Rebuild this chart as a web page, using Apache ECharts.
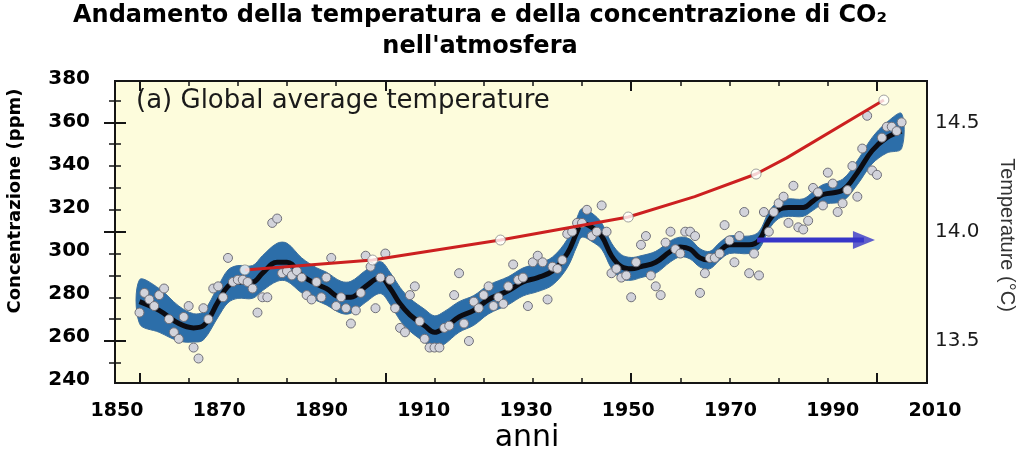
<!DOCTYPE html>
<html><head><meta charset="utf-8">
<script src="https://cdn.jsdelivr.net/npm/echarts@6/dist/echarts.min.js"></script>
<style>html,body{margin:0;padding:0;background:#fff}#c{width:1024px;height:450px}</style>
</head><body><div id="c"></div>
<script>
// ---- texts ----
const titleLine1 = 'Andamento della temperatura e della concentrazione di CO₂';
const titleLine2 = "nell'atmosfera";
const panelLabel = '(a) Global average temperature';
const leftAxisName = 'Concentrazione (ppm)';
const rightAxisName = 'Temperature (°C)';
const bottomAxisName = 'anni';
// ---- overlay axis ticks ----
const xTickLabels = ['1850','1870','1890','1910','1930','1950','1970','1990','2010'];
const ppmMin = 240, ppmMax = 380, ppmStep = 20;
// ---- annual global temperature (°C), one value per year from tempStartYear ----
const tempStartYear = 1850;
const tempValues = [
 13.63,13.72,13.69,13.66,13.71,13.74,13.60,13.54,13.51,13.61,
 13.66,13.47,13.42,13.65,13.60,13.74,13.75,13.70,13.88,13.77,
 13.78,13.78,13.77,13.74,13.63,13.70,13.70,14.04,14.06,13.81,
 13.82,13.80,13.82,13.79,13.71,13.69,13.77,13.70,13.79,13.88,
 13.66,13.70,13.65,13.58,13.64,13.72,13.89,13.84,13.65,13.79,
 13.90,13.78,13.65,13.56,13.54,13.71,13.75,13.59,13.51,13.47,
 13.47,13.47,13.56,13.57,13.71,13.81,13.58,13.50,13.68,13.65,
 13.71,13.75,13.66,13.70,13.67,13.75,13.85,13.78,13.79,13.66,
 13.86,13.89,13.86,13.69,13.84,13.83,13.87,13.99,14.00,14.04,
 14.04,14.10,13.98,14.00,14.12,14.00,13.81,13.83,13.79,13.80,
 13.70,13.86,13.94,13.98,13.80,13.75,13.71,13.95,14.00,13.92,
 13.90,14.00,14.00,13.98,13.72,13.81,13.88,13.88,13.90,14.03,
 13.96,13.86,13.98,14.09,13.81,13.90,13.80,14.09,14.00,14.09,
 14.13,14.16,14.04,14.21,14.02,14.01,14.05,14.20,14.18,14.12,
 14.27,14.22,14.09,14.13,14.19,14.30,14.16,14.38,14.53,14.28,
 14.26,14.43,14.48,14.48,14.46,14.50];
// ---- smoothed curve and its uncertainty half-width ----
const smoothYears = [1850,1854,1858,1861,1863,1866,1868,1870,1873,1875,
 1878,1880,1883,1886,1888,1891,1893,1896,1899,1901,
 1903,1905,1908,1910,1912,1915,1918,1921,1925,1928,
 1931,1934,1937,1939,1940,1942,1944,1946,1948,1950,
 1952,1955,1958,1960,1962,1964,1966,1968,1970,1974,
 1976,1978,1980,1982,1985,1987,1989,1993,1996,1999,
 2002,2005];
const smoothTemps = [13.68,13.64,13.58,13.56,13.57,13.68,13.75,13.77,13.77,13.81,
 13.86,13.86,13.80,13.76,13.74,13.70,13.70,13.75,13.79,13.74,
 13.67,13.62,13.57,13.54,13.56,13.61,13.64,13.69,13.73,13.77,
 13.79,13.82,13.90,14.00,14.04,14.02,13.98,13.89,13.84,13.83,
 13.84,13.86,13.91,13.93,13.92,13.88,13.87,13.91,13.94,13.94,
 13.96,14.05,14.10,14.11,14.11,14.14,14.17,14.19,14.27,14.37,
 14.43,14.46];
const bandHalf = [0.10,0.10,0.08,0.065,0.065,0.07,0.075,0.075,0.075,0.08,
 0.087,0.087,0.08,0.075,0.075,0.073,0.073,0.073,0.073,0.073,
 0.075,0.075,0.075,0.075,0.075,0.07,0.068,0.066,0.064,0.064,
 0.064,0.064,0.065,0.065,0.065,0.065,0.06,0.058,0.055,0.052,
 0.05,0.05,0.048,0.045,0.045,0.042,0.04,0.04,0.04,0.04,
 0.04,0.04,0.04,0.04,0.04,0.042,0.045,0.05,0.055,0.06,
 0.07,0.08];
// ---- CO2 concentration (ppm) ----
const co2Years = [1875,1900,1925,1950,1963,1975,1981,2000];
const co2Ppm   = [291.2,295.8,305.1,315.8,325.3,335.8,343.3,370.2];
const co2MarkYears = [1875,1900,1925,1950,1975,2000];
const co2MarkPpm   = [291.2,295.8,305.1,315.8,335.8,370.2];
// ---- arrow (year, ppm) ----
const arrowFrom = [1975.2, 305.1];
const arrowHead = [1996.1, 305.1];

const tempData = tempValues.map((v, i) => [tempStartYear + i, v]);
const smoothData = smoothYears.map((y, i) => [y, smoothTemps[i]]);
const co2Data = co2Years.map((y, i) => [y, co2Ppm[i]]);
const co2Marks = co2MarkYears.map((y, i) => [y, co2MarkPpm[i]]);

function renderBand(params, api) {
  if (params.dataIndex !== 0) return null;
  const upper = smoothYears.map((y, i) => api.coord([y, smoothTemps[i] + bandHalf[i]]));
  const lower = smoothYears.map((y, i) => api.coord([y, smoothTemps[i] - bandHalf[i]])).reverse();
  return {
    type: 'polygon',
    shape: { points: upper.concat(lower), smooth: 0.35 },
    style: { fill: '#2c6ea9', stroke: '#3d6f9e', lineWidth: 1 }
  };
}

const tickColor = '#151515';
const hidden = { show: false };
const chart = echarts.init(document.getElementById('c'), null, { renderer: 'canvas' });
chart.setOption({
  animation: false,
  backgroundColor: '#ffffff',
  grid: [
    { left: 115, top: 81, width: 812, height: 302, show: true, backgroundColor: '#fdfcdc', borderColor: '#151515', borderWidth: 2 },
    { left: 139.5, top: 81, width: 737.5, height: 302 },
    { left: 115, top: 122.3, width: 812, height: 218.7 },
    { left: 115, top: 100.4, width: 812, height: 262.5 },
    { left: 117, top: 79, width: 818, height: 301 }
  ],
  xAxis: [
    { gridIndex: 0, type: 'value', min: 1845.02, max: 2010.17, show: false },
    { gridIndex: 1, type: 'value', min: 1850, max: 2000, interval: 50, position: 'bottom',
      axisLine: hidden, axisLabel: hidden, splitLine: hidden,
      axisTick: { inside: true, length: 10, lineStyle: { color: tickColor, width: 2 } },
      minorTick: { show: true, splitNumber: 5, length: 5, lineStyle: { color: tickColor, width: 1.5 } } },
    { gridIndex: 1, type: 'value', min: 1850, max: 2000, interval: 50, position: 'top',
      axisLine: hidden, axisLabel: hidden, splitLine: hidden,
      axisTick: { inside: true, length: 10, lineStyle: { color: tickColor, width: 2 } },
      minorTick: { show: true, splitNumber: 5, length: 5, lineStyle: { color: tickColor, width: 1.5 } } },
    { gridIndex: 2, type: 'value', show: false },
    { gridIndex: 3, type: 'value', show: false },
    { gridIndex: 4, type: 'category', data: xTickLabels, boundaryGap: false,
      axisLine: hidden, axisTick: hidden, splitLine: hidden,
      axisLabel: { margin: 22, color: '#000', fontFamily: 'DejaVu Sans', fontWeight: 'bold', fontSize: 19 } },
    { gridIndex: 4, type: 'value', min: 1850, max: 2010, show: false }
  ],
  yAxis: [
    { gridIndex: 0, type: 'value', min: 13.308, max: 14.689, show: false },
    { gridIndex: 1, type: 'value', show: false },
    { gridIndex: 2, type: 'value', min: 13.5, max: 14.5, interval: 0.5, position: 'right',
      axisLine: hidden, splitLine: hidden,
      axisTick: { inside: true, length: 11, lineStyle: { color: tickColor, width: 2 } },
      axisLabel: { margin: 8, color: '#1a1a1a', fontFamily: 'DejaVu Sans', fontSize: 20, formatter: v => v.toFixed(1) } },
    { gridIndex: 2, type: 'value', min: 13.5, max: 14.5, interval: 0.5, position: 'left',
      axisLine: hidden, splitLine: hidden, axisLabel: hidden,
      axisTick: { inside: true, length: 11, lineStyle: { color: tickColor, width: 2 } } },
    { gridIndex: 3, type: 'value', min: 13.4, max: 14.6, interval: 0.1, position: 'right',
      axisLine: hidden, splitLine: hidden, axisLabel: hidden,
      axisTick: { inside: true, length: 6, lineStyle: { color: tickColor, width: 1.5 } } },
    { gridIndex: 3, type: 'value', min: 13.4, max: 14.6, interval: 0.1, position: 'left',
      axisLine: hidden, splitLine: hidden, axisLabel: hidden,
      axisTick: { inside: true, length: 6, lineStyle: { color: tickColor, width: 1.5 } } },
    { gridIndex: 4, type: 'value', min: ppmMin, max: ppmMax, interval: ppmStep, position: 'left',
      axisLine: hidden, axisTick: hidden, splitLine: hidden,
      axisLabel: { margin: 27, color: '#000', fontFamily: 'DejaVu Sans', fontWeight: 'bold', fontSize: 20 } }
  ],
  series: [
    { type: 'custom', xAxisIndex: 0, yAxisIndex: 0, data: smoothData, renderItem: renderBand, z: 2, silent: true },
    { type: 'line', xAxisIndex: 0, yAxisIndex: 0, data: smoothData, smooth: 0.4, symbol: 'none',
      lineStyle: { color: '#0c0c12', width: 5 }, z: 3 },
    { type: 'scatter', xAxisIndex: 0, yAxisIndex: 0, data: tempData, symbolSize: 9,
      itemStyle: { color: '#d2d3db', borderColor: '#707079', borderWidth: 1, opacity: 1 }, z: 4 },
    { type: 'line', xAxisIndex: 6, yAxisIndex: 6, data: co2Data, symbol: 'none', smooth: false,
      lineStyle: { color: '#cc2020', width: 3 }, z: 5 },
    { type: 'scatter', xAxisIndex: 6, yAxisIndex: 6, data: co2Marks, symbolSize: 10,
      itemStyle: { color: '#ffffff', borderColor: '#8a8a8a', borderWidth: 1 }, z: 6 },
    { type: 'line', xAxisIndex: 6, yAxisIndex: 6, data: [arrowFrom, arrowHead], symbol: 'none',
      lineStyle: { color: '#3636c8', width: 5 }, z: 7 },
    { type: 'scatter', xAxisIndex: 6, yAxisIndex: 6, data: [arrowHead], symbol: 'triangle',
      symbolSize: [18, 22], symbolRotate: -90, itemStyle: { color: '#3636c8' }, z: 7 }
  ],
  graphic: [
    { type: 'text', x: 480, y: 16, style: { text: titleLine1, font: 'bold 24px "DejaVu Sans"', fill: '#000', textAlign: 'center', textVerticalAlign: 'middle' } },
    { type: 'text', x: 480, y: 47, style: { text: titleLine2, font: 'bold 24px "DejaVu Sans"', fill: '#000', textAlign: 'center', textVerticalAlign: 'middle' } },
    { type: 'text', x: 136, y: 101, z: 10, style: { text: panelLabel, font: '26px "DejaVu Sans"', fill: '#1a1a1a', textAlign: 'left', textVerticalAlign: 'middle' } },
    { type: 'text', x: 15, y: 201, rotation: Math.PI / 2, style: { text: leftAxisName, font: 'bold 18px "DejaVu Sans"', fill: '#000', textAlign: 'center', textVerticalAlign: 'middle' } },
    { type: 'text', x: 1007, y: 235, rotation: -Math.PI / 2, style: { text: rightAxisName, font: '20px "Liberation Sans"', fill: '#333', textAlign: 'center', textVerticalAlign: 'middle' } },
    { type: 'text', x: 527, y: 438, style: { text: bottomAxisName, font: '30px "DejaVu Sans"', fill: '#000', textAlign: 'center', textVerticalAlign: 'middle' } }
  ]
});
</script></body></html>
